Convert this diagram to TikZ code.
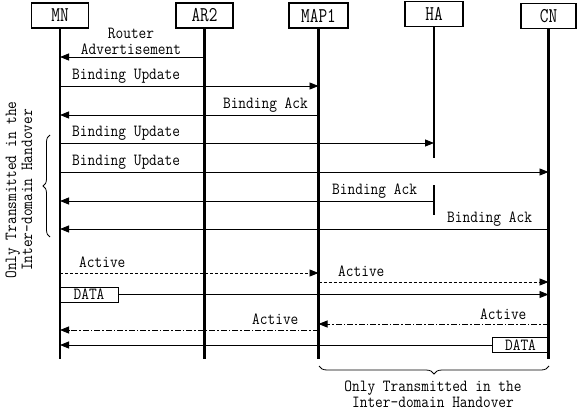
\documentclass[tikz,border=0pt]{standalone}
\usetikzlibrary{arrows.meta,decorations.pathreplacing}
\newcommand{\sqa}[1]{\scalebox{0.8}[1]{#1}}
\newcommand{\sqb}[1]{\scalebox{0.88}[1]{#1}}
\begin{document}
\begin{tikzpicture}[x=1pt,y=-1pt,
  actor/.style={draw,line width=1.8pt,minimum height=25pt,inner sep=0pt,font=\fontsize{21}{21}\selectfont\ttfamily},
  life/.style={line width=2.4pt},
  msg/.style={line width=0.8pt,-{Triangle[length=9pt,width=7pt]}},
  lbl/.style={inner sep=0pt,font=\fontsize{17}{17}\selectfont\ttfamily},
  dsh/.style={dash pattern=on 3pt off 2pt},
  dshdot/.style={dash pattern=on 6pt off 2pt on 1.5pt off 2pt},
  databox/.style={draw,line width=0.8pt,minimum height=15pt,inner sep=0pt,font=\fontsize{17}{17}\selectfont\ttfamily},
  bracestyle/.style={line width=0.8pt,decorate},
  note/.style={inner sep=0pt,align=center,font=\fontsize{17}{16}\selectfont\ttfamily}
]
\useasboundingbox (0,0) rectangle (577,417);
% actors
\node[actor,minimum width=57pt] (MN) at (60,15.5) {\sqa{MN}};
\node[actor,minimum width=57pt] (AR2) at (204.5,15.5) {\sqa{AR2}};
\node[actor,minimum width=59pt] (MAP1) at (318.5,15.5) {\sqa{MAP1}};
\node[actor,minimum width=58pt] (HA) at (434,14) {\sqa{HA}};
\node[actor,minimum width=55pt] (CN) at (548.5,16) {\sqa{CN}};
% lifelines
\coordinate (MNend) at (MN |- 0,359);
\coordinate (AR2end) at (AR2 |- 0,359);
\coordinate (MAP1end) at (MAP1 |- 0,359);
\coordinate (CNend) at (CN |- 0,359);
\draw[life] (MN.south) -- (MNend);
\draw[life] (AR2.south) -- (AR2end);
\draw[life] (MAP1.south) -- (MAP1end);
\draw[life] (CN.south) -- (CNend);
\draw[life] (HA.south) -- (HA |- 0,158);
\draw[life] (HA |- 0,185) -- (HA |- 0,215);
% messages
\draw[msg] (AR2 |- 0,57) -- (MN |- 0,57);
\node[note] (t1) at (131,41) {\sqb{Router}\\\sqb{Advertisement}};
\draw[msg] (MN |- 0,86) -- (MAP1 |- 0,86);
\node[lbl,anchor=west] (t2) at (72,76) {\sqb{Binding Update}};
\draw[msg] (MAP1 |- 0,115) -- (MN |- 0,115);
\node[lbl,anchor=east] (t3) at (308,105) {\sqb{Binding Ack}};
\draw[msg] (MN |- 0,143) -- (HA |- 0,143);
\node[lbl,anchor=west] (t4) at (72,133) {\sqb{Binding Update}};
\draw[msg] (MN |- 0,172) -- (CN |- 0,172);
\node[lbl,anchor=west] (t5) at (72,162) {\sqb{Binding Update}};
\draw[msg] (HA |- 0,201) -- (MN |- 0,201);
\node[lbl,anchor=west] (t6) at (332,191) {\sqb{Binding Ack}};
\draw[msg] (CN |- 0,229) -- (MN |- 0,229);
\node[lbl,anchor=west] (t7) at (447,219) {\sqb{Binding Ack}};
\draw[msg,dsh] (MN |- 0,273) -- (MAP1 |- 0,273);
\node[lbl,anchor=west] (t8) at (79,262) {\sqb{Active}};
\draw[msg,dsh] (MAP1 |- 0,282) -- (CN |- 0,282);
\node[lbl,anchor=west] (t9) at (338,271) {\sqb{Active}};
\node[databox,minimum width=58pt] (d1) at (89,294.5) {\sqb{DATA}};
\draw[msg] (d1.east) -- (CN |- d1.east);
\draw[msg,dshdot] (CN |- 0,324) -- (MAP1 |- 0,324);
\node[lbl,anchor=west] (t10) at (480,314) {\sqb{Active}};
\draw[msg,dshdot] (MAP1 |- 0,330) -- (MN |- 0,330);
\node[lbl,anchor=west] (t11) at (252,319) {\sqb{Active}};
\node[databox,minimum width=57pt] (d2) at (520.5,345) {\sqb{DATA}};
\draw[msg] (d2.west) -- (MN |- d2.west);
% braces
\coordinate (lb1) at (50,237);
\coordinate (lb2) at (50,135);
\draw[bracestyle,decoration={brace,amplitude=7pt}] (lb1) -- (lb2);
\node[note,rotate=90] (lnote) at (19,190) {\sqb{Only Transmitted in the}\\\sqb{Inter-domain Handover}};
\coordinate (bb1) at (549,366);
\coordinate (bb2) at (319,366);
\draw[bracestyle,decoration={brace,amplitude=8pt}] (bb1) -- (bb2);
\node[note] (bnote) at (433,394) {\sqb{Only Transmitted in the}\\\sqb{Inter-domain Handover}};
\end{tikzpicture}
\end{document}
